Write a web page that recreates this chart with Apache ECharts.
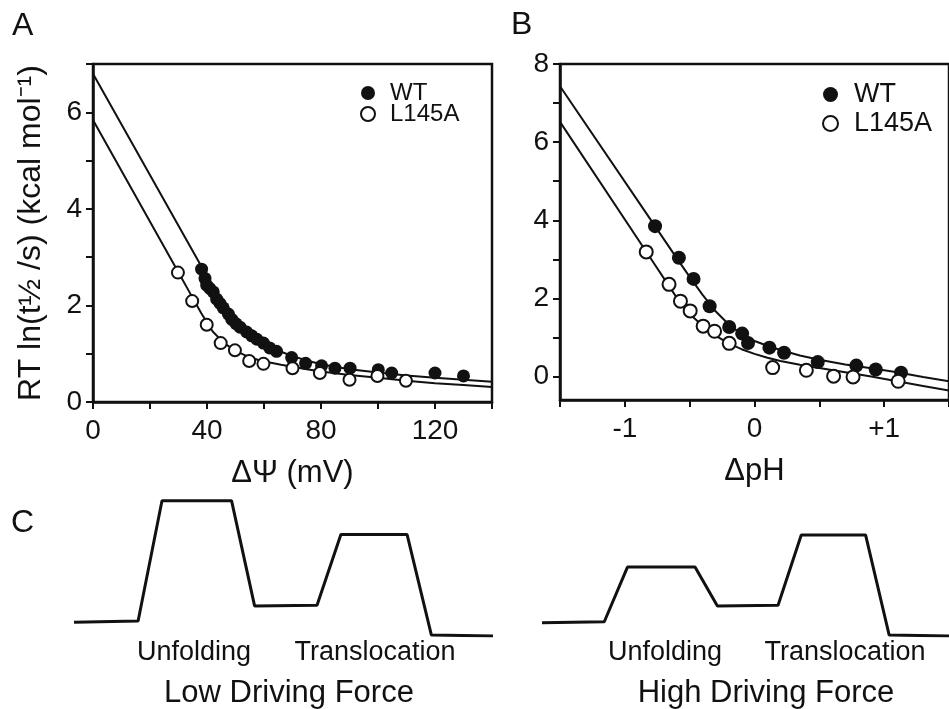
<!DOCTYPE html>
<html><head><meta charset="utf-8">
<script src="https://cdn.jsdelivr.net/npm/echarts@6/dist/echarts.min.js"></script>
<style>html,body{margin:0;padding:0;background:#fff}#c{width:949px;height:709px}</style>
</head><body><div id="c"></div>
<script>
// ---------- Panel A: ΔΨ ----------
const psiWT = [[38.1,2.75],[39.3,2.56],[39.9,2.42],[41.0,2.35],[42.2,2.28],[43.4,2.13],[44.6,2.04],[45.7,1.95],[47.5,1.82],[48.7,1.71],[50.2,1.62],[51.6,1.55],[53.9,1.45],[55.7,1.37],[57.5,1.30],[59.8,1.22],[62.0,1.12],[64.4,1.05],[69.7,0.92],[74.6,0.80],[80.2,0.75],[84.9,0.70],[90.2,0.70],[100.1,0.67],[104.8,0.60],[120.0,0.60],[130.0,0.54]];
const psiL145A = [[29.8,2.68],[34.8,2.09],[39.9,1.60],[44.8,1.22],[49.8,1.07],[54.8,0.85],[59.8,0.79],[70.0,0.70],[79.6,0.60],[90.0,0.46],[99.8,0.54],[109.8,0.44]];
const fitPsiX   = [0,30,34,38,42,46,50,54,58,62,66,70,75,80,90,100,110,120,130,140];
const fitPsiWT  = [6.80,3.65,3.23,2.81,2.38,1.97,1.64,1.42,1.26,1.14,1.04,0.95,0.86,0.78,0.68,0.61,0.55,0.50,0.46,0.42];
const fitPsiL   = [5.84,2.68,2.26,1.84,1.46,1.22,1.06,0.95,0.87,0.82,0.77,0.73,0.68,0.63,0.56,0.50,0.44,0.39,0.35,0.31];
const psiTicks = [0,20,40,60,80,100,120,140];
const psiLabels = [0,40,80,120];
const energyTicksA = [0,1,2,3,4,5,6,7];
const energyLabelsA = [0,2,4,6];

// ---------- Panel B: ΔpH ----------
const phWT = [[-0.767,3.85],[-0.583,3.04],[-0.47,2.50],[-0.346,1.80],[-0.195,1.27],[-0.095,1.10],[-0.05,0.86],[0.115,0.74],[0.228,0.61],[0.488,0.37],[0.785,0.28],[0.935,0.18],[1.13,0.10]];
const phL145A = [[-0.835,3.19],[-0.659,2.36],[-0.571,1.93],[-0.496,1.68],[-0.396,1.29],[-0.308,1.16],[-0.195,0.85],[0.14,0.23],[0.40,0.16],[0.61,0.01],[0.76,-0.01],[1.108,-0.12]];
const fitPhX  = [-1.5,-0.8,-0.6,-0.5,-0.4,-0.3,-0.2,-0.1,0,0.1,0.2,0.35,0.5,0.7,0.9,1.1,1.3,1.5];
const fitPhWT = [7.43,4.01,3.03,2.55,2.09,1.67,1.34,1.09,0.91,0.79,0.68,0.54,0.43,0.31,0.21,0.11,-0.01,-0.12];
const fitPhL  = [6.52,3.02,2.02,1.60,1.30,1.05,0.85,0.70,0.58,0.48,0.40,0.30,0.22,0.11,0.00,-0.12,-0.24,-0.36];
const phTicks = [-1.5,-1,-0.5,0,0.5,1,1.5];
const phLabels = [-1,0,1];
const energyTicksB = [0,1,2,3,4,5,6,7,8];
const energyLabelsB = [0,2,4,6,8];

// ---------- Panel C: energy diagrams ----------
const pathX = [0,15.3,21.0,37.6,43.1,58.0,63.7,79.5,85.3,100];
const lowForceY  = [10.1,11.0,99.5,99.5,22.1,22.6,74.6,74.6,0.7,0];
const highForceY = [9.8,10.5,50.7,50.7,22.1,22.6,74.3,74.3,0.7,0];

const FONT = "'Liberation Sans', Arial, sans-serif";
const INK = '#111';
const zip = (xs, ys) => xs.map((x, i) => [x, ys[i]]);

function valAxis(grid, min, max, ticks, labels, fmt, extra) {
  return Object.assign({
    type: 'value', gridIndex: grid, min: min, max: max,
    axisLine: {show: true, onZero: false, lineStyle: {color: INK, width: 2.5}},
    axisTick: {show: true, inside: false, length: 7, lineStyle: {color: INK, width: 2}, customValues: ticks},
    axisLabel: {customValues: labels, fontSize: 28, color: INK, fontFamily: FONT, margin: 11, formatter: fmt},
    splitLine: {show: false}
  }, extra || {});
}
const hidden = (g) => ({type: 'value', gridIndex: g, min: 0, max: 100, show: false});

const chart = echarts.init(document.getElementById('c'));
const xa0 = valAxis(0, 0, 140, psiTicks, psiLabels, v => String(v),
  {name: 'ΔΨ (mV)', nameLocation: 'middle', nameGap: 56, nameTextStyle: {fontSize: 31, color: INK, fontFamily: FONT}});
xa0.axisLabel.margin = 15;
const xa1 = valAxis(1, -1.5, 1.5, phTicks, phLabels, v => (v > 0 ? '+' + v : String(v)),
  {name: 'ΔpH', nameLocation: 'middle', nameGap: 56, nameTextStyle: {fontSize: 31, color: INK, fontFamily: FONT}});
xa1.axisLabel.margin = 15;
const ya1 = valAxis(1, -0.6, 8, energyTicksB, energyLabelsB, v => String(v));
ya1.axisLabel.padding = [8, 0, 0, 0];

chart.setOption({
  backgroundColor: '#fff',
  animation: false,
  textStyle: {fontFamily: FONT},
  grid: [
    {left: 93, top: 64, width: 399, height: 338, show: true, borderColor: INK, borderWidth: 2.5},
    {left: 560, top: 64, width: 399, height: 336, show: true, borderColor: INK, borderWidth: 2.5},
    {left: 74, top: 500, width: 419, height: 136},
    {left: 542, top: 500, width: 419, height: 136}
  ],
  xAxis: [xa0, xa1, hidden(2), hidden(3)],
  yAxis: [
    valAxis(0, 0, 7, energyTicksA, energyLabelsA, v => String(v),
      {name: 'RT ln(t½ /s) (kcal mol⁻¹)', nameLocation: 'middle', nameGap: 46, nameTextStyle: {fontSize: 32, color: INK, fontFamily: FONT}}),
    ya1,
    hidden(2), hidden(3)
  ],
  legend: [
    {data: ['WT', 'L145A'], selectedMode: false, orient: 'vertical', left: 355, top: 76,
     itemWidth: 34, itemHeight: 14, itemGap: -3,
     textStyle: {fontSize: 24, lineHeight: 21, color: INK, fontFamily: FONT}},
    {data: ['WT', 'L145A'], selectedMode: false, orient: 'vertical', left: 817, top: 75,
     itemWidth: 37, itemHeight: 15, itemGap: 0,
     textStyle: {fontSize: 27, lineHeight: 29, color: INK, fontFamily: FONT}}
  ],
  series: [
    {type: 'line', name: 'fitA1', xAxisIndex: 0, yAxisIndex: 0, data: zip(fitPsiX, fitPsiWT), showSymbol: false, smooth: false, lineStyle: {color: INK, width: 2}, z: 2},
    {type: 'line', name: 'fitA2', xAxisIndex: 0, yAxisIndex: 0, data: zip(fitPsiX, fitPsiL), showSymbol: false, smooth: false, lineStyle: {color: INK, width: 2}, z: 2},
    {type: 'scatter', name: 'WT', xAxisIndex: 0, yAxisIndex: 0, data: psiWT, symbolSize: 13, itemStyle: {color: INK, opacity: 1}, z: 4},
    {type: 'scatter', name: 'L145A', xAxisIndex: 0, yAxisIndex: 0, data: psiL145A, symbolSize: 12, itemStyle: {color: '#fff', borderColor: INK, borderWidth: 2, opacity: 1}, z: 4},
    {type: 'line', name: 'fitB1', xAxisIndex: 1, yAxisIndex: 1, data: zip(fitPhX, fitPhWT), showSymbol: false, smooth: false, lineStyle: {color: INK, width: 2}, z: 2},
    {type: 'line', name: 'fitB2', xAxisIndex: 1, yAxisIndex: 1, data: zip(fitPhX, fitPhL), showSymbol: false, smooth: false, lineStyle: {color: INK, width: 2}, z: 2},
    {type: 'scatter', name: 'WT', xAxisIndex: 1, yAxisIndex: 1, data: phWT, symbolSize: 14, itemStyle: {color: INK, opacity: 1}, z: 4},
    {type: 'scatter', name: 'L145A', xAxisIndex: 1, yAxisIndex: 1, data: phL145A, symbolSize: 13, itemStyle: {color: '#fff', borderColor: INK, borderWidth: 2, opacity: 1}, z: 4},
    {type: 'line', name: 'low', xAxisIndex: 2, yAxisIndex: 2, data: zip(pathX, lowForceY), showSymbol: false, lineStyle: {color: INK, width: 3}},
    {type: 'line', name: 'high', xAxisIndex: 3, yAxisIndex: 3, data: zip(pathX, highForceY), showSymbol: false, lineStyle: {color: INK, width: 3}}
  ],
  graphic: [
    {type: 'text', left: 12, top: 10, style: {text: 'A', fontSize: 32, fill: INK, fontFamily: FONT}},
    {type: 'text', left: 511, top: 9, style: {text: 'B', fontSize: 32, fill: INK, fontFamily: FONT}},
    {type: 'text', left: 11, top: 507, style: {text: 'C', fontSize: 32, fill: INK, fontFamily: FONT}},
    {type: 'text', x: 194, y: 653, style: {text: 'Unfolding', fontSize: 27, fill: INK, fontFamily: FONT, align: 'center', verticalAlign: 'middle'}},
    {type: 'text', x: 375, y: 653, style: {text: 'Translocation', fontSize: 27, fill: INK, fontFamily: FONT, align: 'center', verticalAlign: 'middle'}},
    {type: 'text', x: 289, y: 693, style: {text: 'Low Driving Force', fontSize: 31, fill: INK, fontFamily: FONT, align: 'center', verticalAlign: 'middle'}},
    {type: 'text', x: 665, y: 653, style: {text: 'Unfolding', fontSize: 27, fill: INK, fontFamily: FONT, align: 'center', verticalAlign: 'middle'}},
    {type: 'text', x: 845, y: 653, style: {text: 'Translocation', fontSize: 27, fill: INK, fontFamily: FONT, align: 'center', verticalAlign: 'middle'}},
    {type: 'text', x: 766, y: 693, style: {text: 'High Driving Force', fontSize: 31, fill: INK, fontFamily: FONT, align: 'center', verticalAlign: 'middle'}}
  ]
});
</script></body></html>
